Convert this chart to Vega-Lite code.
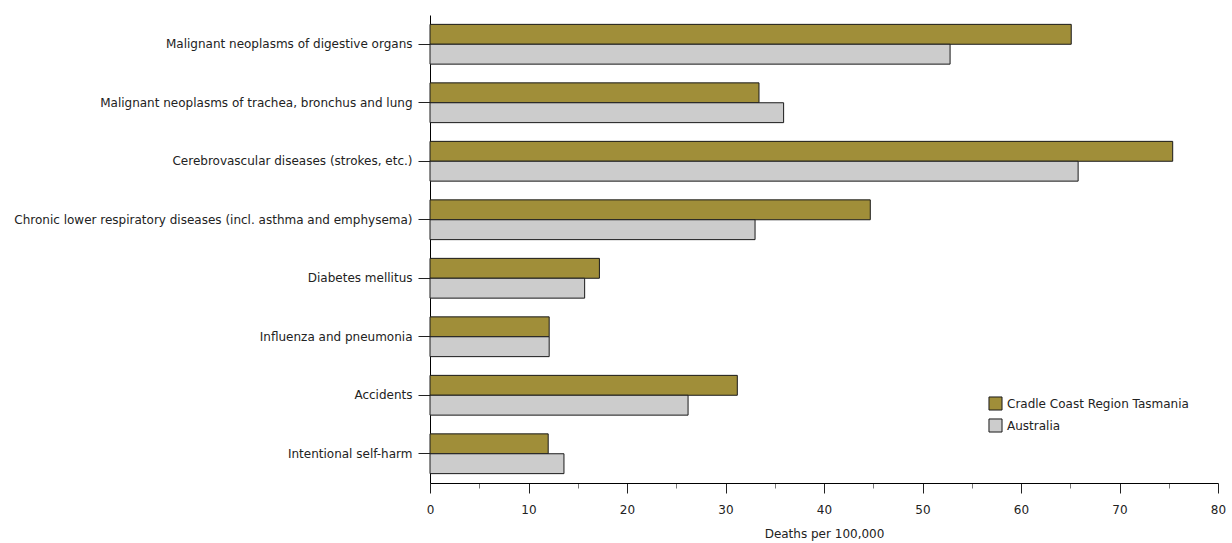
{
  "$schema": "https://vega.github.io/schema/vega-lite/v6.json",
  "autosize": "none",
  "padding": {"left": 430, "top": 15, "right": 14, "bottom": 60},
  "width": 788,
  "height": 468,
  "background": "white",
  "config": {
    "font": "DejaVu Sans",
    "view": {"stroke": null}
  },
  "data": {
    "values": [
      {"cause": "Malignant neoplasms of digestive organs", "region": "Cradle Coast Region Tasmania", "rate": 65.1},
      {"cause": "Malignant neoplasms of digestive organs", "region": "Australia", "rate": 52.8},
      {"cause": "Malignant neoplasms of trachea, bronchus and lung", "region": "Cradle Coast Region Tasmania", "rate": 33.4},
      {"cause": "Malignant neoplasms of trachea, bronchus and lung", "region": "Australia", "rate": 35.9},
      {"cause": "Cerebrovascular diseases (strokes, etc.)", "region": "Cradle Coast Region Tasmania", "rate": 75.4},
      {"cause": "Cerebrovascular diseases (strokes, etc.)", "region": "Australia", "rate": 65.8},
      {"cause": "Chronic lower respiratory diseases (incl. asthma and emphysema)", "region": "Cradle Coast Region Tasmania", "rate": 44.7},
      {"cause": "Chronic lower respiratory diseases (incl. asthma and emphysema)", "region": "Australia", "rate": 33.0},
      {"cause": "Diabetes mellitus", "region": "Cradle Coast Region Tasmania", "rate": 17.2},
      {"cause": "Diabetes mellitus", "region": "Australia", "rate": 15.7},
      {"cause": "Influenza and pneumonia", "region": "Cradle Coast Region Tasmania", "rate": 12.1},
      {"cause": "Influenza and pneumonia", "region": "Australia", "rate": 12.1},
      {"cause": "Accidents", "region": "Cradle Coast Region Tasmania", "rate": 31.2},
      {"cause": "Accidents", "region": "Australia", "rate": 26.2},
      {"cause": "Intentional self-harm", "region": "Cradle Coast Region Tasmania", "rate": 12.0},
      {"cause": "Intentional self-harm", "region": "Australia", "rate": 13.6}
    ]
  },
  "mark": {"type": "bar", "stroke": "#1a1a1a", "strokeWidth": 1},
  "encoding": {
    "y": {
      "field": "cause",
      "type": "nominal",
      "sort": null,
      "scale": {"paddingInner": 0.32, "paddingOuter": 0.16},
      "axis": {
        "title": null,
        "labelFontSize": 12,
        "labelColor": "#222222",
        "labelPadding": 6,
        "labelLimit": 450,
        "tickSize": 12,
        "tickColor": "#222222",
        "domainColor": "#000000",
        "tickBand": "center"
      }
    },
    "yOffset": {
      "field": "region",
      "type": "nominal",
      "sort": ["Cradle Coast Region Tasmania", "Australia"]
    },
    "x": {
      "field": "rate",
      "type": "quantitative",
      "scale": {"domain": [0, 80], "nice": false},
      "axis": {
        "title": "Deaths per 100,000",
        "titleFontSize": 12,
        "titleFontWeight": "normal",
        "titleColor": "#222222",
        "titlePadding": 13,
        "grid": false,
        "values": [0, 5, 10, 15, 20, 25, 30, 35, 40, 45, 50, 55, 60, 65, 70, 75, 80],
        "labelExpr": "datum.value % 10 === 0 ? datum.label : ''",
        "labelFlush": false,
        "labelFontSize": 12,
        "labelColor": "#222222",
        "labelPadding": 11,
        "tickSize": {"condition": {"test": "datum.value % 10 === 0", "value": 10}, "value": 5},
        "tickColor": {"condition": {"test": "datum.value % 10 === 0", "value": "#222222"}, "value": "#777777"},
        "domainColor": "#000000"
      }
    },
    "color": {
      "field": "region",
      "type": "nominal",
      "scale": {"domain": ["Cradle Coast Region Tasmania", "Australia"], "range": ["#A08E39", "#CCCCCC"]},
      "legend": {
        "title": null,
        "orient": "none",
        "legendX": 558,
        "legendY": 381,
        "symbolType": "square",
        "symbolSize": 170,
        "symbolStrokeColor": "#1a1a1a",
        "symbolStrokeWidth": 1,
        "labelFontSize": 12,
        "labelColor": "#222222",
        "labelLimit": 300,
        "rowPadding": 3
      }
    }
  }
}
